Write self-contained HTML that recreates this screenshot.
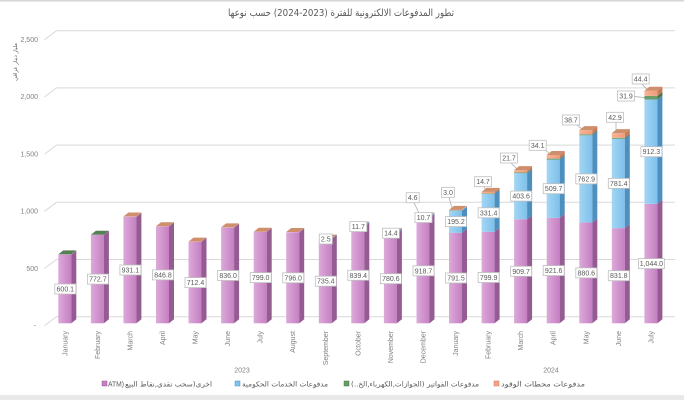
<!DOCTYPE html>
<html><head><meta charset="utf-8"><style>
html,body{margin:0;padding:0;background:#fff;}
svg{display:block;}
.n{font-family:"Liberation Sans",sans-serif;font-size:7px;fill:#595959;text-anchor:middle;}
.ax{font-family:"Liberation Sans",sans-serif;font-size:7px;fill:#808080;}
.ar{font-family:"DejaVu Sans","Liberation Sans",sans-serif;fill:#595959;}
.lb{fill:#fff;stroke:#bfbfbf;stroke-width:0.8;}
.ld{stroke:#a6a6a6;stroke-width:0.7;fill:none;}
</style></head><body>
<svg width="684" height="400" viewBox="0 0 684 400" xmlns="http://www.w3.org/2000/svg">
<defs>
<linearGradient id="gp" x1="0" x2="1" y1="0" y2="0"><stop offset="0" stop-color="#dcaad9"/><stop offset="1" stop-color="#c57fc2"/></linearGradient>
<linearGradient id="gb" x1="0" x2="1" y1="0" y2="0"><stop offset="0" stop-color="#a3d6f5"/><stop offset="1" stop-color="#7ec0ea"/></linearGradient>
<linearGradient id="go" x1="0" x2="1" y1="0" y2="0"><stop offset="0" stop-color="#f8b495"/><stop offset="1" stop-color="#ee9c7a"/></linearGradient>
</defs>
<rect x="0" y="0" width="684" height="400" fill="#fff"/>
<rect x="0" y="0" width="684" height="1.5" fill="#d6d6d6"/>
<rect x="0" y="395" width="684" height="5" fill="#e9e9e9"/>

<text x="341" y="16" class="ar" font-size="10" text-anchor="middle" textLength="226" lengthAdjust="spacingAndGlyphs">تطور المدفوعات الالكترونية للفترة (2023-2024) حسب نوعها</text>

<!-- gridlines -->
<g stroke="#d9d9d9" stroke-width="1" fill="none">
<polyline points="44.5,325.7 56.5,316.7 675,316.7"/>
<polyline points="44.5,268.5 56.5,259.5 675,259.5"/>
<polyline points="44.5,211.3 56.5,202.3 675,202.3"/>
<polyline points="44.5,154.1 56.5,145.1 675,145.1"/>
<polyline points="44.5,96.9 56.5,87.9 675,87.9"/>
<polyline points="44.5,39.7 56.5,30.7 675,30.7"/>
</g>

<!-- y labels -->
<g class="ax" text-anchor="end">
<text x="38" y="41.8">2,500</text>
<text x="38" y="99.2">2,000</text>
<text x="38" y="156.5">1,500</text>
<text x="38" y="213.6">1,000</text>
<text x="38" y="270.8">500</text>
<text x="36" y="327.5">-</text>
</g>
<text transform="translate(17,62) rotate(-90)" class="ar" font-size="5.5" fill="#808080" text-anchor="middle" textLength="38" lengthAdjust="spacingAndGlyphs">مليار دينار عراقي</text>

<!-- bars -->
<g id="bars">
<g transform="translate(58.3,0)"><rect x="0" y="254.65" width="13" height="68.65" fill="url(#gp)"/><polygon points="13,323.3 18,319.3 18,250.65 13,254.65" fill="#955b93"/><polygon points="0,254.4 5,250.4 18,250.4 13,254.4" fill="#567f55"/></g>
<g transform="translate(90.9,0)"><rect x="0" y="234.9" width="13" height="88.4" fill="url(#gp)"/><polygon points="13,323.3 18,319.3 18,230.9 13,234.9" fill="#955b93"/><polygon points="0,234.7 5,230.7 18,230.7 13,234.7" fill="#567f55"/></g>
<g transform="translate(123.4,0)"><rect x="0" y="216.78" width="13" height="106.52" fill="url(#gp)"/><polygon points="13,323.3 18,319.3 18,212.78 13,216.78" fill="#955b93"/><polygon points="0,216.5 5,212.5 18,212.5 13,216.5" fill="#cf8e6c"/></g>
<g transform="translate(156,0)"><rect x="0" y="226.43" width="13" height="96.87" fill="url(#gp)"/><polygon points="13,323.3 18,319.3 18,222.43 13,226.43" fill="#955b93"/><polygon points="0,226.2 5,222.2 18,222.2 13,226.2" fill="#cf8e6c"/></g>
<g transform="translate(188.5,0)"><rect x="0" y="241.8" width="13" height="81.5" fill="url(#gp)"/><polygon points="13,323.3 18,319.3 18,237.8 13,241.8" fill="#955b93"/><polygon points="0,241.6 5,237.6 18,237.6 13,241.6" fill="#cf8e6c"/></g>
<g transform="translate(221.1,0)"><rect x="0" y="227.66" width="13" height="95.64" fill="url(#gp)"/><polygon points="13,323.3 18,319.3 18,223.66 13,227.66" fill="#955b93"/><polygon points="0,227.4 5,223.4 18,223.4 13,227.4" fill="#cf8e6c"/></g>
<g transform="translate(253.7,0)"><rect x="0" y="231.89" width="13" height="91.41" fill="url(#gp)"/><polygon points="13,323.3 18,319.3 18,227.89 13,231.89" fill="#955b93"/><polygon points="0,231.7 5,227.7 18,227.7 13,231.7" fill="#cf8e6c"/></g>
<g transform="translate(286.2,0)"><rect x="0" y="232.24" width="13" height="91.06" fill="url(#gp)"/><polygon points="13,323.3 18,319.3 18,228.24 13,232.24" fill="#955b93"/><polygon points="0,232 5,228 18,228 13,232" fill="#cf8e6c"/></g>
<g transform="translate(318.8,0)"><rect x="0" y="239.17" width="13" height="84.13" fill="url(#gp)"/><polygon points="13,323.3 18,319.3 18,235.17 13,239.17" fill="#955b93"/><polygon points="13,239.2 18,235.2 18,234.6 13,238.6" fill="#4d90c0"/><polygon points="0,238.65 5,234.65 18,234.65 13,238.65" fill="#cf8e6c"/></g>
<g transform="translate(351.3,0)"><rect x="0" y="227.27" width="13" height="96.03" fill="url(#gp)"/><polygon points="13,323.3 18,319.3 18,223.27 13,227.27" fill="#955b93"/><rect x="0" y="225.93" width="13" height="1.34" fill="url(#gb)"/><polygon points="13,227.27 18,223.27 18,221.93 13,225.93" fill="#4d90c0"/><polygon points="0,225.7 5,221.7 18,221.7 13,225.7" fill="#cf8e6c"/></g>
<g transform="translate(383.9,0)"><rect x="0" y="234" width="13" height="89.3" fill="url(#gp)"/><polygon points="13,323.3 18,319.3 18,230 13,234" fill="#955b93"/><rect x="0" y="232.35" width="13" height="1.65" fill="url(#gb)"/><polygon points="13,234 18,230 18,228.35 13,232.35" fill="#4d90c0"/><polygon points="0,232.1 5,228.1 18,228.1 13,232.1" fill="#cf8e6c"/></g>
<g transform="translate(416.5,0)"><rect x="0" y="218.2" width="13" height="105.1" fill="url(#gp)"/><polygon points="13,323.3 18,319.3 18,214.2 13,218.2" fill="#955b93"/><rect x="0" y="216.98" width="13" height="1.22" fill="url(#gb)"/><polygon points="13,218.2 18,214.2 18,212.98 13,216.98" fill="#4d90c0"/><rect x="0" y="216.45" width="13" height="0.53" fill="url(#go)"/><polygon points="0,216.45 5,212.45 18,212.45 13,216.45" fill="#cf8e6c"/></g>
<g transform="translate(449,0)"><rect x="0" y="232.75" width="13" height="90.55" fill="url(#gp)"/><polygon points="13,323.3 18,319.3 18,228.75 13,232.75" fill="#955b93"/><rect x="0" y="210.42" width="13" height="22.33" fill="url(#gb)"/><polygon points="13,232.75 18,228.75 18,206.42 13,210.42" fill="#4d90c0"/><rect x="0" y="210.19" width="13" height="0.4" fill="#6b9d69"/><rect x="0" y="209.85" width="13" height="0.4" fill="url(#go)"/><polygon points="0,209.85 5,205.85 18,205.85 13,209.85" fill="#cf8e6c"/></g>
<g transform="translate(481.6,0)"><rect x="0" y="231.79" width="13" height="91.51" fill="url(#gp)"/><polygon points="13,323.3 18,319.3 18,227.79 13,231.79" fill="#955b93"/><rect x="0" y="193.88" width="13" height="37.91" fill="url(#gb)"/><polygon points="13,231.79 18,227.79 18,189.88 13,193.88" fill="#4d90c0"/><rect x="0" y="193.3" width="13" height="0.6" fill="#6b9d69"/><polygon points="13,193.9 18,189.9 18,189.3 13,193.3" fill="#4a744a"/><rect x="0" y="191.86" width="13" height="1.5" fill="url(#go)"/><polygon points="13,193.3 18,189.3 18,187.86 13,191.86" fill="#c87c5c"/><polygon points="0,191.86 5,187.86 18,187.86 13,191.86" fill="#cf8e6c"/></g>
<g transform="translate(514.1,0)"><rect x="0" y="219.23" width="13" height="104.07" fill="url(#gp)"/><polygon points="13,323.3 18,319.3 18,215.23 13,219.23" fill="#955b93"/><rect x="0" y="173.06" width="13" height="46.17" fill="url(#gb)"/><polygon points="13,219.23 18,215.23 18,169.06 13,173.06" fill="#4d90c0"/><rect x="0" y="172.4" width="13" height="0.7" fill="#6b9d69"/><polygon points="13,173.06 18,169.06 18,168.4 13,172.4" fill="#4a744a"/><rect x="0" y="170.12" width="13" height="2.3" fill="url(#go)"/><polygon points="13,172.4 18,168.4 18,166.12 13,170.12" fill="#c87c5c"/><polygon points="0,170.12 5,166.12 18,166.12 13,170.12" fill="#cf8e6c"/></g>
<g transform="translate(546.7,0)"><rect x="0" y="217.87" width="13" height="105.43" fill="url(#gp)"/><polygon points="13,323.3 18,319.3 18,213.87 13,217.87" fill="#955b93"/><rect x="0" y="159.56" width="13" height="58.31" fill="url(#gb)"/><polygon points="13,217.87 18,213.87 18,155.56 13,159.56" fill="#4d90c0"/><rect x="0" y="158.6" width="13" height="1" fill="#6b9d69"/><polygon points="13,159.56 18,155.56 18,154.6 13,158.6" fill="#4a744a"/><rect x="0" y="154.97" width="13" height="3.63" fill="url(#go)"/><polygon points="13,158.6 18,154.6 18,150.97 13,154.97" fill="#c87c5c"/><polygon points="0,154.97 5,150.97 18,150.97 13,154.97" fill="#cf8e6c"/></g>
<g transform="translate(579.3,0)"><rect x="0" y="222.56" width="13" height="100.74" fill="url(#gp)"/><polygon points="13,323.3 18,319.3 18,218.56 13,222.56" fill="#955b93"/><rect x="0" y="135.28" width="13" height="87.28" fill="url(#gb)"/><polygon points="13,222.56 18,218.56 18,131.28 13,135.28" fill="#4d90c0"/><rect x="0" y="134.3" width="13" height="1" fill="#6b9d69"/><polygon points="13,135.28 18,131.28 18,130.3 13,134.3" fill="#4a744a"/><rect x="0" y="130.16" width="13" height="4.14" fill="url(#go)"/><polygon points="13,134.3 18,130.3 18,126.16 13,130.16" fill="#c87c5c"/><polygon points="0,130.16 5,126.16 18,126.16 13,130.16" fill="#cf8e6c"/></g>
<g transform="translate(611.8,0)"><rect x="0" y="228.14" width="13" height="95.16" fill="url(#gp)"/><polygon points="13,323.3 18,319.3 18,224.14 13,228.14" fill="#955b93"/><rect x="0" y="138.75" width="13" height="89.39" fill="url(#gb)"/><polygon points="13,228.14 18,224.14 18,134.75 13,138.75" fill="#4d90c0"/><rect x="0" y="137.8" width="13" height="1" fill="#6b9d69"/><polygon points="13,138.75 18,134.75 18,133.8 13,137.8" fill="#4a744a"/><rect x="0" y="133.15" width="13" height="4.65" fill="url(#go)"/><polygon points="13,137.8 18,133.8 18,129.15 13,133.15" fill="#c87c5c"/><polygon points="0,133.15 5,129.15 18,129.15 13,133.15" fill="#cf8e6c"/></g>
<g transform="translate(644.4,0)"><rect x="0" y="203.87" width="13" height="119.43" fill="url(#gp)"/><polygon points="13,323.3 18,319.3 18,199.87 13,203.87" fill="#955b93"/><rect x="0" y="99.5" width="13" height="104.37" fill="url(#gb)"/><polygon points="13,203.87 18,199.87 18,95.5 13,99.5" fill="#4d90c0"/><rect x="0" y="95.85" width="13" height="3.65" fill="#6b9d69"/><polygon points="13,99.5 18,95.5 18,91.85 13,95.85" fill="#4a744a"/><rect x="0" y="90.77" width="13" height="5.08" fill="url(#go)"/><polygon points="13,95.85 18,91.85 18,86.77 13,90.77" fill="#c87c5c"/><polygon points="0,90.77 5,86.77 18,86.77 13,90.77" fill="#cf8e6c"/></g>
</g>

<!-- leader lines -->
<g class="ld">
<line x1="414" y1="202.7" x2="419.5" y2="214"/>
<line x1="449" y1="197.3" x2="452" y2="208"/>
<line x1="484" y1="186.7" x2="486" y2="190.5"/>
<line x1="511" y1="163" x2="517" y2="169"/>
<line x1="544" y1="149" x2="550" y2="154"/>
<line x1="577" y1="125" x2="582" y2="129"/>
<line x1="616" y1="122.3" x2="616" y2="132"/>
<line x1="634" y1="96.5" x2="644.4" y2="97.5"/>
<line x1="642" y1="84" x2="647" y2="89.5"/>
</g>

<!-- data labels -->
<g>
<rect class="lb" x="54.8" y="284" width="21" height="10"/><text class="n" x="65.3" y="291.5">600.1</text>
<rect class="lb" x="87.4" y="274.1" width="21" height="10"/><text class="n" x="97.9" y="281.6">772.7</text>
<rect class="lb" x="119.9" y="265" width="21" height="10"/><text class="n" x="130.4" y="272.5">931.1</text>
<rect class="lb" x="152.5" y="269.9" width="21" height="10"/><text class="n" x="163" y="277.4">846.8</text>
<rect class="lb" x="185" y="277.6" width="21" height="10"/><text class="n" x="195.5" y="285.1">712.4</text>
<rect class="lb" x="217.6" y="270.5" width="21" height="10"/><text class="n" x="228.1" y="278">836.0</text>
<rect class="lb" x="250.2" y="272.6" width="21" height="10"/><text class="n" x="260.7" y="280.1">799.0</text>
<rect class="lb" x="282.7" y="272.8" width="21" height="10"/><text class="n" x="293.2" y="280.3">796.0</text>
<rect class="lb" x="315.3" y="276.2" width="21" height="10"/><text class="n" x="325.8" y="283.7">735.4</text>
<rect class="lb" x="347.8" y="270.3" width="21" height="10"/><text class="n" x="358.3" y="277.8">839.4</text>
<rect class="lb" x="380.4" y="273.7" width="21" height="10"/><text class="n" x="390.9" y="281.2">780.6</text>
<rect class="lb" x="413" y="265.8" width="21" height="10"/><text class="n" x="423.5" y="273.3">918.7</text>
<rect class="lb" x="445.5" y="273" width="21" height="10"/><text class="n" x="456" y="280.5">791.5</text>
<rect class="lb" x="478.1" y="272.5" width="21" height="10"/><text class="n" x="488.6" y="280">799.9</text>
<rect class="lb" x="510.6" y="266.3" width="21" height="10"/><text class="n" x="521.1" y="273.8">909.7</text>
<rect class="lb" x="543.2" y="265.6" width="21" height="10"/><text class="n" x="553.7" y="273.1">921.6</text>
<rect class="lb" x="575.8" y="267.9" width="21" height="10"/><text class="n" x="586.3" y="275.4">880.6</text>
<rect class="lb" x="608.3" y="270.7" width="21" height="10"/><text class="n" x="618.8" y="278.2">831.8</text>
<rect class="lb" x="638.4" y="258.6" width="26" height="10"/><text class="n" x="651.4" y="266.1">1,044.0</text>

<rect class="lb" x="319.3" y="234" width="13" height="10"/><text class="n" x="325.8" y="241.5">2.5</text>
<rect class="lb" x="349.8" y="221.6" width="17" height="10"/><text class="n" x="358.3" y="229.1">11.7</text>
<rect class="lb" x="382.4" y="228.2" width="17" height="10"/><text class="n" x="390.9" y="235.7">14.4</text>
<rect class="lb" x="415" y="212.6" width="17" height="10"/><text class="n" x="423.5" y="220.1">10.7</text>
<rect class="lb" x="445.5" y="216.6" width="21" height="10"/><text class="n" x="456" y="224.1">195.2</text>
<rect class="lb" x="478.1" y="207.8" width="21" height="10"/><text class="n" x="488.6" y="215.3">331.4</text>
<rect class="lb" x="510.6" y="191.1" width="21" height="10"/><text class="n" x="521.1" y="198.6">403.6</text>
<rect class="lb" x="543.2" y="183.7" width="21" height="10"/><text class="n" x="553.7" y="191.2">509.7</text>
<rect class="lb" x="575.8" y="173.9" width="21" height="10"/><text class="n" x="586.3" y="181.4">762.9</text>
<rect class="lb" x="608.3" y="178.4" width="21" height="10"/><text class="n" x="618.8" y="185.9">781.4</text>
<rect class="lb" x="640.9" y="146.7" width="21" height="10"/><text class="n" x="651.4" y="154.2">912.3</text>

<rect class="lb" x="406.2" y="192.7" width="13" height="10"/><text class="n" x="412.7" y="200.2">4.6</text>
<rect class="lb" x="441.5" y="187.3" width="13" height="10"/><text class="n" x="448" y="194.8">3.0</text>
<rect class="lb" x="474.5" y="176.7" width="17" height="10"/><text class="n" x="483" y="184.2">14.7</text>
<rect class="lb" x="500.5" y="153" width="17" height="10"/><text class="n" x="509" y="160.5">21.7</text>
<rect class="lb" x="529.2" y="140.3" width="17" height="10"/><text class="n" x="537.7" y="147.8">34.1</text>
<rect class="lb" x="562.5" y="115" width="17" height="10"/><text class="n" x="571" y="122.5">38.7</text>
<rect class="lb" x="606.5" y="112.3" width="17" height="10"/><text class="n" x="615" y="119.8">42.9</text>
<rect class="lb" x="617.5" y="91" width="17" height="10"/><text class="n" x="626" y="98.5">31.9</text>
<rect class="lb" x="632.2" y="74" width="17" height="10"/><text class="n" x="640.7" y="81.5">44.4</text>
</g>

<!-- month labels -->
<g class="ax" font-size="6.8" text-anchor="end">
<text transform="translate(67.3,331) rotate(-90)">January</text>
<text transform="translate(99.9,331) rotate(-90)">February</text>
<text transform="translate(132.4,331) rotate(-90)">March</text>
<text transform="translate(165,331) rotate(-90)">April</text>
<text transform="translate(197.5,331) rotate(-90)">May</text>
<text transform="translate(230.1,331) rotate(-90)">June</text>
<text transform="translate(262.7,331) rotate(-90)">July</text>
<text transform="translate(295.2,331) rotate(-90)">August</text>
<text transform="translate(327.8,331) rotate(-90)">September</text>
<text transform="translate(360.3,331) rotate(-90)">October</text>
<text transform="translate(392.9,331) rotate(-90)">November</text>
<text transform="translate(425.5,331) rotate(-90)">December</text>
<text transform="translate(458,331) rotate(-90)">January</text>
<text transform="translate(490.6,331) rotate(-90)">February</text>
<text transform="translate(523.1,331) rotate(-90)">March</text>
<text transform="translate(555.7,331) rotate(-90)">April</text>
<text transform="translate(588.3,331) rotate(-90)">May</text>
<text transform="translate(620.8,331) rotate(-90)">June</text>
<text transform="translate(653.4,331) rotate(-90)">July</text>
</g>
<g class="ax" text-anchor="middle">
<text x="242" y="372.5">2023</text>
<text x="551" y="372.5">2024</text>
</g>

<!-- legend -->
<g>
<rect x="102" y="381" width="5" height="5" fill="#c77fc4" stroke="#9a5a98" stroke-width="0.5"/>
<text x="108" y="386.3" font-family="Liberation Sans, sans-serif" font-size="7" fill="#595959" textLength="16" lengthAdjust="spacingAndGlyphs">ATM)</text>
<text x="125" y="386.3" class="ar" font-size="7" textLength="87" lengthAdjust="spacingAndGlyphs">اخرى(سحب نقدي,نقاط البيع</text>
<rect x="235" y="381" width="5" height="5" fill="#7fc4ee" stroke="#4d90c0" stroke-width="0.5"/>
<text x="242" y="386.3" class="ar" font-size="7" textLength="86" lengthAdjust="spacingAndGlyphs">مدفوعات الخدمات الحكومية</text>
<rect x="344" y="381" width="5" height="5" fill="#6a9c68" stroke="#4a744a" stroke-width="0.5"/>
<text x="351" y="386.3" class="ar" font-size="7" textLength="128" lengthAdjust="spacingAndGlyphs">مدفوعات الفواتير (الجوازات,الكهرباء,الخ..)</text>
<rect x="494" y="381" width="5" height="5" fill="#f4a585" stroke="#c87c5c" stroke-width="0.5"/>
<text x="501" y="386.3" class="ar" font-size="7" textLength="84" lengthAdjust="spacingAndGlyphs">مدفوعات محطات الوقود</text>
</g>
</svg>
</body></html>
